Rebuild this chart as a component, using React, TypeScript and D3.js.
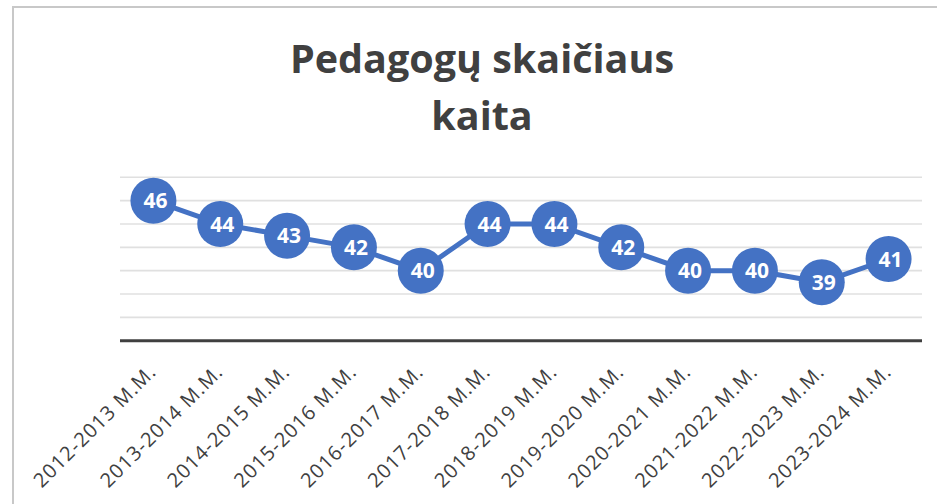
import React, { useEffect, useRef } from 'react';
import * as d3 from 'd3';

// school years and number of teachers
const years = [
  '2012-2013 M.M.', '2013-2014 M.M.', '2014-2015 M.M.', '2015-2016 M.M.',
  '2016-2017 M.M.', '2017-2018 M.M.', '2018-2019 M.M.', '2019-2020 M.M.',
  '2020-2021 M.M.', '2021-2022 M.M.', '2022-2023 M.M.', '2023-2024 M.M.',
];
const teachers = [46, 44, 43, 42, 40, 44, 44, 42, 40, 40, 39, 41];
const gridValues = [36, 38, 40, 42, 44, 46, 48];
const titleLines = ['Pedagogų skaičiaus', 'kaita'];

function App() {
  const ref = useRef<SVGSVGElement>(null);

  useEffect(() => {
    const w = 937,
      h = 504;
    const svg = d3.select(ref.current);
    svg.selectAll('*').remove();
    svg.attr('width', w).attr('height', h);

    svg.append('rect')
      .attr('width', w).attr('height', h)
      .attr('fill', '#fff');

    // chart border
    svg.append('rect')
      .attr('x', 13).attr('y', 7)
      .attr('width', 1000).attr('height', 1000)
      .attr('fill', 'none')
      .attr('stroke', '#c8c8c8')
      .attr('stroke-width', 2);

    const left = 120, right = 922, top = 177.3, bottom = 340.7;

    const x = d3.scaleBand()
      .domain(years)
      .range([left, right]);

    const y = d3.scaleLinear()
      .domain([34, 48])
      .range([bottom, top]);

    // title
    svg.append('text')
      .attr('x', 482)
      .attr('text-anchor', 'middle')
      .attr('font-family', '"Open Sans", sans-serif')
      .attr('font-weight', 'bold')
      .attr('font-size', 39.5)
      .attr('fill', '#404040')
      .selectAll('tspan')
      .data(titleLines)
      .enter()
      .append('tspan')
      .attr('x', 482)
      .attr('y', (d, i) => 73 + i * 57)
      .text(d => d);

    // gridlines
    svg.selectAll('.grid')
      .data(gridValues)
      .enter()
      .append('line')
      .attr('x1', left).attr('x2', right)
      .attr('y1', d => y(d)).attr('y2', d => y(d))
      .attr('stroke', '#e0e0e0')
      .attr('stroke-width', 1.6);

    // x axis
    svg.append('line')
      .attr('x1', left).attr('x2', right)
      .attr('y1', y(34)).attr('y2', y(34))
      .attr('stroke', '#404040')
      .attr('stroke-width', 3);

    const cx = (d: string) => (x(d) as number) + x.bandwidth() / 2;

    svg.selectAll('.xlabel')
      .data(years)
      .enter()
      .append('text')
      .attr('transform', d => `translate(${cx(d) + 4},373) rotate(-45)`)
      .attr('text-anchor', 'end')
      .attr('font-family', '"Open Sans", sans-serif')
      .attr('font-size', 20)
      .attr('letter-spacing', 1)
      .attr('fill', '#404040')
      .text(d => d);

    const line = d3.line<number>()
      .x((d, i) => cx(years[i]))
      .y(d => y(d));

    svg.append('path')
      .datum(teachers)
      .attr('d', line)
      .attr('fill', 'none')
      .attr('stroke', '#4472C4')
      .attr('stroke-width', 5);

    svg.selectAll('.marker')
      .data(teachers)
      .enter()
      .append('circle')
      .attr('cx', (d, i) => cx(years[i]))
      .attr('cy', d => y(d))
      .attr('r', 23)
      .attr('fill', '#4472C4');

    svg.selectAll('.value')
      .data(teachers)
      .enter()
      .append('text')
      .attr('x', (d, i) => cx(years[i]) + 2)
      .attr('y', d => y(d))
      .attr('dy', '0.36em')
      .attr('text-anchor', 'middle')
      .attr('font-family', '"Open Sans", sans-serif')
      .attr('font-weight', 'bold')
      .attr('font-size', 21)
      .attr('fill', '#fff')
      .text(d => d);
  }, []);

  return (
    <svg ref={ref} style={{ position: 'absolute', left: 0, top: 0 }}></svg>
  );
}

export default App;
